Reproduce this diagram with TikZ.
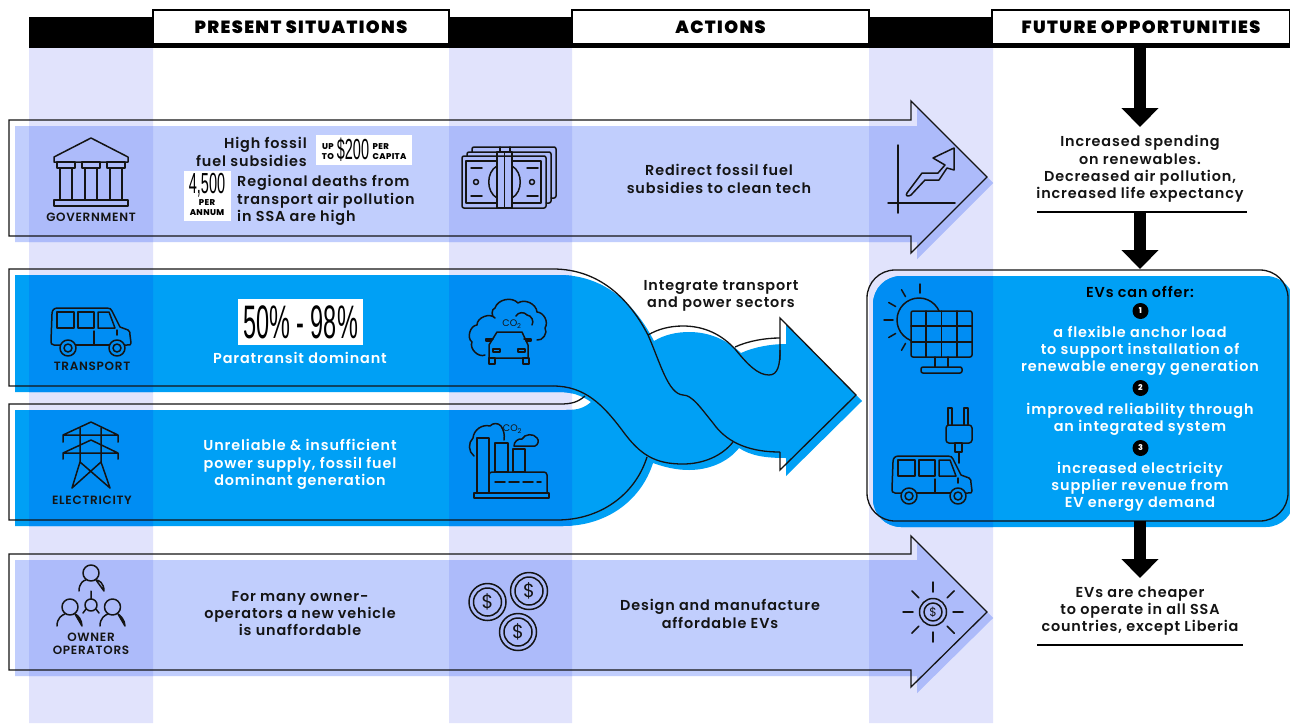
\documentclass[tikz,border=0pt]{standalone}
\usepackage{fontspec}
\usetikzlibrary{arrows.meta,calc}
\setmainfont{Poppins}
\newfontfamily\ff[LetterSpace=6]{Poppins SemiBold}
\newfontfamily\hf[LetterSpace=8]{Poppins Black}
\newfontfamily\tf[LetterSpace=4]{Poppins ExtraBold}
\newfontfamily\cond[FakeStretch=0.5]{Liberation Sans}
\definecolor{lav}{HTML}{E1E3FC}
\definecolor{lite}{HTML}{C1CEFD}
\definecolor{liteD}{HTML}{ADBBFA}
\definecolor{blu}{HTML}{00A0F5}
\definecolor{bluD}{HTML}{008DF3}
\definecolor{ink}{HTML}{141414}
\tikzset{
 txt/.style={inner sep=0pt,align=center,text=ink,yshift=-1.5pt,font=\ff\fontsize{14.4}{17.2}\selectfont},
 wtxt/.style={txt,text=white},
 lbl/.style={inner sep=0pt,align=center,text=ink,font=\ff\fontsize{12}{13.4}\selectfont},
 tiny/.style={inner sep=0pt,align=center,text=black,font=\tf\fontsize{8.4}{9.6}\selectfont},
 hdr/.style={draw=black,fill=white,line width=1.4pt,inner sep=0pt,font=\hf\fontsize{17.6}{20}\selectfont},
 outl/.style={draw=ink,line width=1.3pt},
 ico/.style={draw=ink,line width=1.5pt,line cap=round,line join=round},
 bigarrow/.style={line width=12pt,draw=black,-{Triangle[width=36pt,length=19pt]}},
 rulel/.style={draw=black,line width=1.2pt},
 numc/.style={circle,fill=black,text=white,minimum size=16pt,inner sep=0pt,font=\tf\fontsize{8}{8}\selectfont},
 wbox/.style={fill=white,draw=none},
 co/.style={inner sep=0pt,text=ink,font=\fontsize{9.5}{9.5}\selectfont},
}
\newcommand{\rects}[1]{\fill[#1] (29,40) rectangle (153,723) (449,40) rectangle (572,723) (869,40) rectangle (993,723);}
\newcommand{\shapefill}[3]{\fill[#2,shift={(6,6)}] #1; \begin{scope}\clip[shift={(6,6)}] #1; \rects{#3}\end{scope}}
\newcommand{\bandone}{(9,120)--(911,120)--(911,101)--(987,177)--(911,253)--(911,236)--(9,236)--cycle}
\newcommand{\bandfour}{(9,554)--(911,554)--(911,536)--(987,612)--(911,687)--(911,670)--(9,670)--cycle}
\newcommand{\boxpath}{[rounded corners=28] (867,270) rectangle (1288,521)}
\newcommand{\twist}{(9,269)--(553,269) .. controls (600,269) and (630,300) .. (648,335)
 .. controls (658,329) and (670,326) .. (683,326) .. controls (705,326) and (722,335) .. (735,347)
 .. controls (748,341) and (765,338) .. (780,338) -- (780,318) -- (856,395) -- (780,470) -- (780,452)
 .. controls (760,452) and (745,450) .. (733,442) .. controls (722,456) and (703,464) .. (683,464)
 .. controls (670,464) and (658,461) .. (647,457) .. controls (635,495) and (600,520) .. (557,520)
 -- (9,520) -- (9,404) -- (560,404) .. controls (572,404) and (578,402) .. (585,396)
 .. controls (575,389) and (565,386) .. (553,386) -- (9,386) -- cycle}
\newcommand{\vanicon}{%
 \draw[ico] (60,345)--(54,345) .. controls (51,345) and (51,343) .. (51,341) -- (52,314) .. controls (52,310) and (54,308) .. (58,308) -- (107,308) .. controls (110,308) and (111,309) .. (112,311) -- (120,327) -- (128,330) .. controls (130,331) and (130,333) .. (130,335) -- (131,343) .. controls (131,345) and (130,345) .. (127,345) -- (125,345);
 \draw[ico] (76,345)--(109,345);
 \draw[ico] (68,348) circle (8) (68,348) circle (4) (117,348) circle (8) (117,348) circle (4);
 \draw[ico] (57,312) rectangle (74,328) (78,312) rectangle (94,328);
 \draw[ico] (98,312)--(109,312)--(115,328)--(98,328)--cycle;
 \draw[ico] (94,331)--(94,344) (117,330)--(117,335);
}
\begin{document}
\begin{tikzpicture}[x=1pt,y=-1pt]
\useasboundingbox (0,0) rectangle (1290,723);
\fill[white] (0,0) rectangle (1290,723);
\rects{lav}
% header
\fill[black] (29,17) rectangle (1290,48);
\node[hdr,minimum width=296pt,minimum height=34pt] (h1) at (301,27) {PRESENT SITUATIONS};
\node[hdr,minimum width=297pt,minimum height=34pt] (h2) at (720.5,27) {ACTIONS};
\node[hdr,minimum width=298pt,minimum height=34pt] (h3) at (1141,27) {FUTURE OPPORTUNITIES};
% fills
\shapefill{\bandone}{lite}{liteD}
\shapefill{\bandfour}{lite}{liteD}
\shapefill{\twist}{blu}{bluD}
\shapefill{\boxpath}{blu}{bluD}
% outlines
\draw[outl] \bandone;
\draw[outl] \bandfour;
\draw[outl] \boxpath;
\draw[outl] (553,386)--(9,386)--(9,269)--(553,269) .. controls (600,269) and (630,300) .. (648,335)
 .. controls (660,362) and (668,394) .. (683,395) .. controls (692,395) and (700,407) .. (713,423)
 .. controls (725,440) and (745,452) .. (780,452);
\draw[outl] (553,386) .. controls (585,386) and (603,405) .. (622,430) .. controls (640,455) and (655,464) .. (683,464)
 .. controls (703,464) and (722,456) .. (733,442);
\draw[outl] (585,396) .. controls (578,402) and (572,404) .. (560,404) -- (9,404) -- (9,520) -- (557,520)
 .. controls (600,520) and (635,495) .. (647,457);
\draw[outl] (648,335) .. controls (658,329) and (670,326) .. (683,326) .. controls (705,326) and (722,335) .. (735,349)
 .. controls (748,365) and (758,375) .. (769,375) .. controls (778,375) and (780,365) .. (780,350);
\draw[outl] (735,347) .. controls (748,341) and (765,338) .. (780,338);
\draw[outl,line join=miter] (780,360)--(780,318)--(856,395)--(780,470)--(780,452);
% black arrows
\coordinate (a1s) at (1140,48); \coordinate (a1e) at (1140,127);
\coordinate (a2s) at (1140,213); \coordinate (a2e) at (1140,269);
\coordinate (a3s) at (1140,521); \coordinate (a3e) at (1140,578);
\draw[bigarrow] (a1s)--(a1e);
\draw[bigarrow] (a2s)--(a2e);
\draw[bigarrow] (a3s)--(a3e);
\coordinate (r1a) at (1037,212); \coordinate (r1b) at (1247,212);
\coordinate (r2a) at (1037,645); \coordinate (r2b) at (1243,645);
\draw[rulel] (r1a)--(r1b);
\draw[rulel] (r2a)--(r2b);
% row 1 text
\node[txt,align=right,anchor=east] (t1) at (307,150.5) {High fossil\\fuel subsidies};
\fill[wbox] (316,135) rectangle (412,165);
\node[tiny] (up) at (328,147) {UP}; \node[tiny] (to) at (328,157) {TO};
\node[inner sep=0pt,text=black,font=\cond\fontsize{29}{29}\selectfont] (d200) at (353,150) {\$200};
\node[tiny,anchor=west] (per) at (372.5,147) {PER}; \node[tiny,anchor=west] (cap) at (372.5,157) {CAPITA};
\fill[wbox] (184,171) rectangle (231,221);
\node[inner sep=0pt,text=black,font=\cond\fontsize{29}{29}\selectfont] (n45) at (207,185) {4,500};
\node[tiny] (per2) at (207,203) {PER}; \node[tiny] (ann) at (207,213) {ANNUM};
\node[txt,align=left,anchor=west] (t2) at (237,199) {Regional deaths from\\transport air pollution\\in SSA are high};
\node[txt] (t3) at (719,177.5) {Redirect fossil fuel\\subsidies to clean tech};
\node[txt] (t4) at (1140,167.5) {Increased spending\\on renewables.\\Decreased air pollution,\\increased life expectancy};
\node[lbl] (l1) at (91,217) {GOVERNMENT};
% row 2/3 text
\fill[wbox] (238,299) rectangle (363,345);
\node[inner sep=0pt,text=black,font=\cond\fontsize{47}{47}\selectfont] (pc) at (300.5,322) {50\% - 98\%};
\node[wtxt] (t5) at (300,356.5) {Paratransit dominant};
\node[wtxt] (t6) at (300,463) {Unreliable \& insufficient\\power supply, fossil fuel\\dominant generation};
\node[txt] (t7) at (721,294) {Integrate transport\\and power sectors};
\node[lbl] (l2) at (92,366) {TRANSPORT};
\node[lbl] (l3) at (92,500) {ELECTRICITY};
% right box
\node[txt,text=black] (e0) at (1140,290) {EVs can offer:};
\node[numc] (n1) at (1140.5,311) {1};
\node[wtxt] (e1) at (1140,349.5) {a flexible anchor load\\to support installation of\\renewable energy generation};
\node[numc] (n2) at (1140.5,388) {2};
\node[wtxt] (e2) at (1140,417.5) {improved reliability through\\an integrated system};
\node[numc] (n3) at (1140.5,448) {3};
\node[wtxt] (e3) at (1140,485.5) {increased electricity\\supplier revenue from\\EV energy demand};
% row 4 text
\node[txt] (t8) at (300,612) {For many owner-\\operators a new vehicle\\is unaffordable};
\node[txt] (t9) at (720,612.5) {Design and manufacture\\affordable EVs};
\node[txt] (t10) at (1140,609.5) {EVs are cheaper\\to operate in all SSA\\countries, except Liberia};
\node[lbl] (l4) at (91,643.5) {OWNER\\OPERATORS};
% government icon
\draw[ico] (91,138)--(54,157)--(54,162)--(128,162)--(128,157)--cycle;
\draw[ico] (57,162) rectangle (75,168) (82,162) rectangle (100,168) (107,162) rectangle (125,168);
\draw[ico] (60,168)--(60,200) (72,168)--(72,200) (85,168)--(85,200) (97,168)--(97,200) (110,168)--(110,200) (122,168)--(122,200);
\draw[ico] (54,200) rectangle (128,206);
% money icon
\draw[ico,rounded corners=2] (472,152)--(472,147)--(556,147)--(556,198)--(551,198);
\draw[ico,rounded corners=2] (467,156)--(467,152)--(551,152)--(551,203)--(546,203);
\draw[ico,rounded corners=2] (462,156) rectangle (546,208);
\draw[ico] (466,161) rectangle (497,203) (512,161) rectangle (541,203);
\draw[ico] (497,152) rectangle (512,208) (504.5,152)--(504.5,208) (500,147)--(500,152) (510,147)--(510,152);
\draw[ico] (497,166) .. controls (486,172) and (486,192) .. (497,198);
\draw[ico] (512,166) .. controls (523,172) and (523,192) .. (512,198);
\draw[ico] (476,182) circle (2.5) (532,182) circle (2.5);
\draw[ico] (471,168)--(482,168) (471,196)--(482,196) (527,168)--(538,168) (527,196)--(538,196);
% chart icon
\draw[ico] (898,145)--(898,213) (888,203)--(955,203);
\draw[ico] (907,193)--(922,173)--(938,173)--(945,165)--(933,158)--(954,148)--(954,170)--(947,168)--(939,180)--(925,180)--(911,195) .. controls (908,197) and (905,196) .. (907,193);
% van
\vanicon
\begin{scope}[shift={(841,148)}]\vanicon\end{scope}
% plug
\draw[ico] (948,425)--(948,408)--(952,408)--(952,425) (964,425)--(964,408)--(968,408)--(968,425);
\draw[ico,rounded corners=3] (946,425) rectangle (972,443);
\draw[ico] (955,443) rectangle (962,452) (959,452)--(959,463);
% solar
\draw[ico] (919,320) circle (22);
\draw[ico] (920,284)--(920,293) (884,320)--(893,320);
\foreach \a in {30,60,120,150,210,240}{\draw[ico] ($(919,320)+(\a:27)$)--($(919,320)+(\a:35)$);}
\fill[bluD] (911,311) rectangle (972,357);
\draw[ico,rounded corners=2] (911,311) rectangle (972,357);
\draw[ico] (926,311)--(926,357) (941.5,311)--(941.5,357) (957,311)--(957,357) (911,326)--(972,326) (911,342)--(972,342);
\draw[ico] (935,357)--(935,367) (948,357)--(948,367);
\draw[ico,rounded corners=2] (921,367) rectangle (962,373);
% pylon
\draw[ico] (63,442)--(63,435)--(91,422)--(118,435)--(118,442) (63,435)--(118,435);
\draw[ico] (63,459)--(63,453)--(91,440)--(118,453)--(118,459) (63,453)--(118,453);
\draw[ico] (80,428)--(80,462)--(72,488) (101,428)--(101,462)--(110,488) (80,462)--(110,488) (101,462)--(72,488);
% owner icon
\draw[ico] (91,573) circle (8) (70,607) circle (8) (112.5,607) circle (8) (91,605) circle (6);
\draw[ico] (79,591) .. controls (79,583) and (84,580) .. (86,580) (96,580) .. controls (99,580) and (104,583) .. (104,591) --cycle;
\draw[ico] (57,626) .. controls (57,618) and (62,615) .. (65,614) (75,614) .. controls (78,615) and (82,620) .. (82,626) -- cycle;
\draw[ico] (100,626) .. controls (100,618) and (105,615) .. (108,614) (118,614) .. controls (120,615) and (125,620) .. (125,626) -- cycle;
\draw[ico] (91,591)--(91,599) (86,609)--(83,613) (96,609)--(99,613);
% coins
\foreach \p/\n in {487.5/602,529/591,518/632}{\draw[ico] (\p,\n) circle (18.5) (\p,\n) circle (14);
 \node[inner sep=0pt,text=ink,font=\fontsize{19}{19}\selectfont] (c\p) at (\p,\n) {\$};}
% sun dollar
\draw[ico] (933,612) circle (13.5) (933,612) circle (9);
\node[inner sep=0pt,text=ink,font=\fontsize{12}{12}\selectfont] (sd) at (933,612) {\$};
\foreach \a in {0,45,...,315}{\draw[ico] ($(933,612)+(\a:20)$)--($(933,612)+(\a:30)$);}
% car cloud
\draw[ico] (485,355) to[bend left=70] (472,342) to[bend left=70] (477,325) to[bend left=70] (495,318) to[bend left=80] (495,308) to[bend left=60] (518,303) to[bend left=60] (537,312) to[bend left=60] (545,328) to[bend left=70] (537,340);
\draw[ico] (516,316) to[bend left=60] (527,315) to[bend left=60] (532,325);
\node[co] (co1) at (512,324.5) {CO\textsubscript{2}};
\fill[bluD] (497,333)--(522,333)--(527,345)--(527,357)--(490,357)--(490,345)--cycle;
\draw[ico] (497,332)--(522,332)--(528,345)--(528,358)--(489,358)--(489,345)--cycle;
\draw[ico] (489,358) rectangle (495,364) (523,358) rectangle (529,364);
\draw[ico] (491,341)--(486,341)--(486,339)--(493,339) (526,341)--(531,341)--(531,339)--(524,339);
\draw[ico] (493,349) rectangle (500,352) (518,349) rectangle (525,352);
% factory
\draw[ico] (477,438) rectangle (489,493) (495,443) rectangle (508,472) (513,449) rectangle (525,472);
\draw[ico,rounded corners=3] (489,493)--(489,472)--(547,472)--(547,493);
\draw[ico] (474,493) rectangle (549,498);
\draw[ico,dash pattern=on 10pt off 4pt] (495,482)--(541,482);
\draw[ico] (474,456) to[bend left=50] (473,438) to[bend left=50] (490,426) to[bend left=50] (501,426) to[bend left=20] (504,440);
\draw[ico] (514,446) to[bend left=50] (522,439) to[bend left=60] (537,438) to[bend left=60] (535,446) -- cycle;
\node[co] (co2) at (512.5,429) {CO\textsubscript{2}};
\end{tikzpicture}
\end{document}
